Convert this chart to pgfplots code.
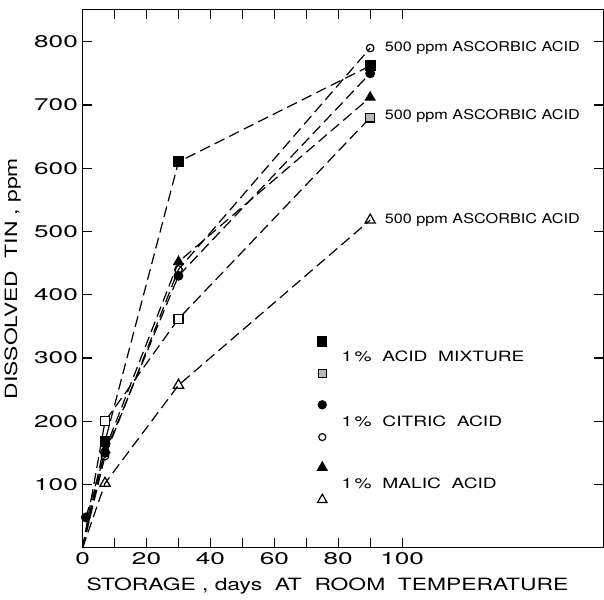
\documentclass[border=0pt]{standalone}
\usepackage{fontspec}
\setmainfont{TeX Gyre Heros}[FakeStretch=1.2]
\newfontfamily\tickfont{TeX Gyre Heros}[FakeStretch=1.55]
\newfontfamily\labfont{TeX Gyre Heros}[FakeStretch=1.35]
\usepackage{pgfplots}
\pgfplotsset{compat=1.18}
\begin{document}
\begin{tikzpicture}
\begin{axis}[
 scale only axis, width=385pt, height=398pt,
 xmin=0, xmax=163, ymin=0, ymax=851,
 xtick={0,20,...,100}, minor xtick={10,30,...,90},
 ytick={100,200,...,800},
 major tick length=7pt, minor tick length=7pt,
 tick style={black, line width=0.8pt},
 axis line style={line width=0.9pt},
 ticklabel style={font=\tickfont\fontsize{12.5}{15}\selectfont},
 /pgf/number format/assume math mode=true,
 xlabel={STORAGE , days\ \ AT\ \ ROOM\ \ TEMPERATURE},
 ylabel={DISSOLVED\ \ TIN , ppm},
 label style={font=\labfont\fontsize{12.5}{15}\selectfont},
 xlabel style={at={(axis description cs:0.47,0)},anchor=north,yshift=-19pt},
 ylabel style={yshift=3pt},
 clip=false,
 every axis plot/.append style={black, line width=0.9pt, dash pattern=on 8pt off 4pt},
]
% 1% acid mixture
\addplot[mark=square*, mark size=3.6pt, mark indices={2,3,4}, mark options={solid,fill=black}] coordinates {(0,0) (7,168) (30,610) (90,762)};
% acid mixture + ascorbic
\addplot[mark=square*, mark size=3.3pt, mark indices={2,3}, mark options={solid,fill=white}] coordinates {(0,0) (7,200) (30,362) (90,680)};
\addplot[only marks, mark=square*, mark size=3.3pt, mark options={solid,fill=gray!55}] coordinates {(90,680)};
% citric
\addplot[mark=*, mark size=3.2pt, mark options={solid,fill=black}] coordinates {(1,48) (7,150) (30,430) (90,750)};
% citric + ascorbic
\addplot[mark=o, mark size=2.8pt, mark indices={2,3,4}, mark options={solid}] coordinates {(0,0) (7,145) (30,440) (90,790)};
% malic
\addplot[mark=triangle*, mark size=4pt, mark indices={2,3,4}, mark options={solid,fill=black}] coordinates {(0,0) (7,155) (30,452) (90,712)};
% malic + ascorbic
\addplot[mark=triangle, mark size=4.4pt, mark indices={2,3,4}, mark options={solid}] coordinates {(0,0) (7,102) (30,257) (90,518)};
% key marks
\addplot[only marks, mark=square*, mark size=3.3pt, mark options={solid,fill=black}] coordinates {(75,326)};
\addplot[only marks, mark=square*, mark size=3pt, mark options={solid,fill=gray!55}] coordinates {(75,275)};
\addplot[only marks, mark=*, mark size=3pt, mark options={solid,fill=black}] coordinates {(75,226)};
\addplot[only marks, mark=o, mark size=2.6pt, mark options={solid}] coordinates {(75,175)};
\addplot[only marks, mark=triangle*, mark size=4pt, mark options={solid,fill=black}] coordinates {(75,127)};
\addplot[only marks, mark=triangle, mark size=4pt, mark options={solid}] coordinates {(75,76)};
\begin{scope}[every node/.style={anchor=west, font=\fontsize{10}{12}\selectfont, inner sep=0pt}]
\node at (axis cs:94.5,790) {500 ppm ASCORBIC ACID};
\node at (axis cs:94.5,683) {500 ppm ASCORBIC ACID};
\node at (axis cs:94.5,518) {500 ppm ASCORBIC ACID};
\end{scope}
\begin{scope}[every node/.style={anchor=west, font=\labfont\fontsize{10.5}{12}\selectfont, inner sep=0pt}]
\node at (axis cs:81,302) {1\,\%\ \ ACID\ \ MIXTURE};
\node at (axis cs:81,200) {1\,\%\ \ CITRIC\ \ ACID};
\node at (axis cs:81,102) {1\,\%\ \ MALIC\ \ ACID};
\end{scope}
\path (rel axis cs:0,1) ++(0,7pt);
\end{axis}
\end{tikzpicture}
\end{document}
